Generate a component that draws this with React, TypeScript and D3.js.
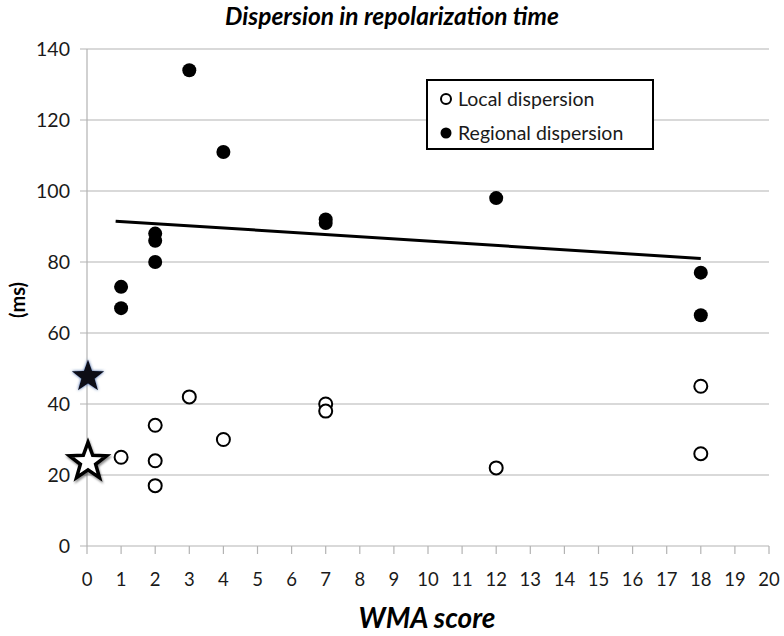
import React from "react";
import * as d3 from "d3";

const regionalX = [1, 1, 2, 2, 2, 3, 4, 7, 7, 12, 18, 18];
const regionalY = [73, 67, 88, 86, 80, 134, 111, 92, 91, 98, 77, 65];
const localX = [1, 2, 2, 2, 3, 4, 7, 7, 12, 18, 18];
const localY = [25, 34, 24, 17, 42, 30, 40, 38, 22, 45, 26];
const trendX = [0.84, 18];
const trendY = [91.5, 81];
const starFilled = [0, 48];
const starOpen = [0, 24];
const xTicks = d3.range(0, 21);
const yTicks = [0, 20, 40, 60, 80, 100, 120, 140];

const W = 784;
const H = 636;
const FONT = "Lato, 'Open Sans', sans-serif";

function starPath(cx: number, cy: number, ro: number, ri: number) {
  const pts: [number, number][] = [];
  for (let i = 0; i < 10; i++) {
    const r = i % 2 === 0 ? ro : ri;
    const a = -Math.PI / 2 + (i * Math.PI) / 5;
    pts.push([cx + r * Math.cos(a), cy + r * Math.sin(a)]);
  }
  return d3.line()(pts) + "Z";
}

export default function App() {
  const x = d3.scaleLinear().domain([0, 20]).range([87, 769]);
  const y = d3.scaleLinear().domain([0, 140]).range([546, 49]);
  const trend = d3.line<number>()
    .x((_, i) => x(trendX[i]))
    .y((d) => y(d));

  return (
    <svg
      width={W}
      height={H}
      style={{ position: "absolute", left: 0, top: 0, background: "#fff" }}
      fontFamily={FONT}
    >
      <defs>
        <filter id="glow" x="-50%" y="-50%" width="200%" height="200%">
          <feGaussianBlur in="SourceAlpha" stdDeviation="1.8" result="b" />
          <feFlood floodColor="#3a5a9a" result="c" />
          <feComposite in="c" in2="b" operator="in" result="g" />
          <feMerge>
            <feMergeNode in="g" />
            <feMergeNode in="SourceGraphic" />
          </feMerge>
        </filter>
        <filter id="shadow" x="-50%" y="-50%" width="200%" height="200%">
          <feGaussianBlur in="SourceAlpha" stdDeviation="1.3" result="b" />
          <feOffset dx="1" dy="2" in="b" result="o" />
          <feFlood floodColor="#000" floodOpacity="0.45" result="c" />
          <feComposite in="c" in2="o" operator="in" result="s" />
          <feMerge>
            <feMergeNode in="s" />
            <feMergeNode in="SourceGraphic" />
          </feMerge>
        </filter>
      </defs>

      {/* gridlines */}
      {yTicks.map((t) => (
        <line
          key={"g" + t}
          x1={80}
          x2={x(20)}
          y1={y(t)}
          y2={y(t)}
          stroke="#b3b3b3"
          strokeWidth={1.2}
        />
      ))}
      {/* y axis */}
      <line x1={x(0)} x2={x(0)} y1={y(140)} y2={y(0)} stroke="#b3b3b3" strokeWidth={1.2} />
      {/* x ticks */}
      {xTicks.map((t) => (
        <line
          key={"xt" + t}
          x1={x(t)}
          x2={x(t)}
          y1={y(0)}
          y2={y(0) + 8}
          stroke="#b3b3b3"
          strokeWidth={1.2}
        />
      ))}
      {/* y tick labels */}
      {yTicks.map((t) => (
        <text
          key={"yl" + t}
          x={70}
          y={y(t) + 7}
          textAnchor="end"
          fontSize={19.5}
          fill="#1a1a1a"
        >
          {t}
        </text>
      ))}
      {/* x tick labels */}
      {xTicks.map((t) => (
        <text
          key={"xl" + t}
          x={x(t)}
          y={586}
          textAnchor="middle"
          fontSize={18.5}
          fill="#1a1a1a"
        >
          {t}
        </text>
      ))}

      {/* trendline */}
      <path d={trend(trendY) || ""} fill="none" stroke="#000" strokeWidth={3} />

      {/* regional */}
      {regionalY.map((v, i) => (
        <circle key={"r" + i} cx={x(regionalX[i])} cy={y(v)} r={7} fill="#000" />
      ))}
      {/* local */}
      {localY.map((v, i) => (
        <circle
          key={"l" + i}
          cx={x(localX[i])}
          cy={y(v)}
          r={6.5}
          fill="#fff"
          stroke="#000"
          strokeWidth={2}
        />
      ))}

      {/* stars */}
      <path
        d={starPath(x(starFilled[0]) + 1, y(starFilled[1]) + 1, 17, 7)}
        fill="#0a0a18"
        filter="url(#glow)"
      />
      <path
        d={starPath(x(starOpen[0]) + 1, y(starOpen[1]) + 1, 19.5, 8)}
        fill="#fff"
        stroke="#000"
        strokeWidth={3.5}
        strokeLinejoin="miter"
        filter="url(#shadow)"
      />

      {/* legend */}
      <rect x={427} y={80} width={226} height={69} fill="#fff" stroke="#000" strokeWidth={2} />
      <circle cx={446} cy={99} r={5} fill="#fff" stroke="#000" strokeWidth={2} />
      <text x={458} y={106} fontSize={19.5} fill="#1a1a1a">
        Local dispersion
      </text>
      <circle cx={446} cy={133} r={5.5} fill="#000" />
      <text x={458} y={140} fontSize={19.5} fill="#1a1a1a">
        Regional dispersion
      </text>

      {/* titles */}
      <text
        x={392}
        y={25}
        textAnchor="middle"
        fontSize={24.5}
        fontWeight="bold"
        fontStyle="italic"
        fill="#000"
      >
        Dispersion in repolarization time
      </text>
      <text
        x={427}
        y={628}
        textAnchor="middle"
        fontSize={28}
        fontWeight="bold"
        fontStyle="italic"
        fill="#000"
      >
        WMA score
      </text>
      <text
        transform="translate(25,300) rotate(-90)"
        textAnchor="middle"
        fontSize={20}
        fontWeight="bold"
        fill="#000"
      >
        (ms)
      </text>
    </svg>
  );
}
